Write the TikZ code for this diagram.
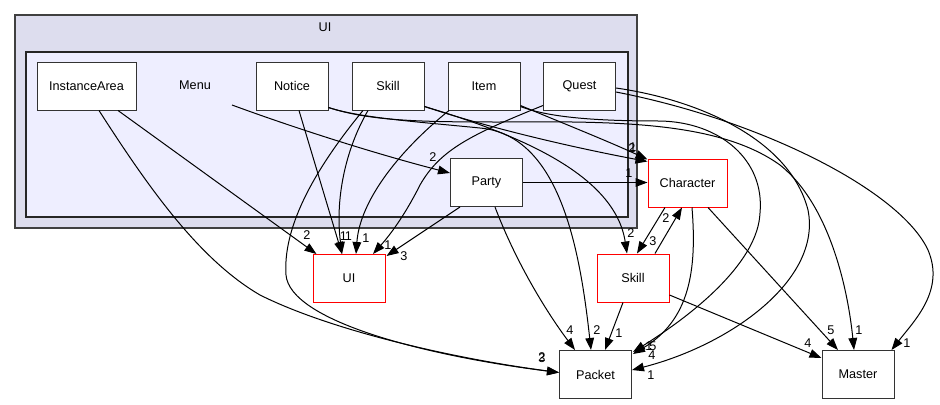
\documentclass[tikz,border=0pt]{standalone}
\usepackage{fontspec}
\setmainfont{Liberation Sans}
\usetikzlibrary{arrows.meta,calc}
\definecolor{outerfill}{HTML}{DDDDEE}
\definecolor{innerfill}{HTML}{EEEEFF}
\definecolor{clborder}{HTML}{404040}
\begin{document}
\begin{tikzpicture}[x=0.75pt,y=-0.75pt,
  font=\fontsize{9.5}{11}\selectfont,
  dirbox/.style={draw=black!80, fill=white, line width=0.75pt, minimum width=54pt, minimum height=36pt, inner sep=0pt},
  reddir/.style={dirbox, draw=red},
  edge/.style={draw=black, line width=0.75pt, -{Triangle[length=9pt,width=6.5pt]}},
  lbl/.style={inner sep=0pt}]
\useasboundingbox (0,0) rectangle (940,404);
% clusters
\draw[fill=outerfill, draw=clborder, line width=1.2pt] (15,15) rectangle (637,228);
\node[lbl] (uilabel) at (325,27) {UI};
\draw[fill=innerfill, draw=black!85, line width=0.9pt] (26,52) rectangle (628,217);
% nodes
\node[dirbox, minimum width=74.25pt] (instancearea) at (86.5,86) {InstanceArea};
\node[lbl] (menu) at (195,85) {Menu};
\node[dirbox] (notice) at (292,86) {Notice};
\node[dirbox] (skillui) at (388,86) {Skill};
\node[dirbox] (item) at (484,86) {Item};
\node[dirbox] (quest) at (579.5,86) {Quest};
\node[dirbox] (party) at (486.5,182.5) {Party};
\node[reddir] (ui) at (349,278.5) {UI};
\node[reddir] (skill) at (633,278) {Skill};
\node[reddir, minimum width=59.25pt] (character) at (687.5,183) {Character};
\node[dirbox] (packet) at (595.5,374.5) {Packet};
\node[dirbox] (master) at (858,374.5) {Master};
% edges
\draw[edge] ($(instancearea.south)+(31.5,0)$) -- ($(ui.north west)+(4,0)$);
\draw[edge] ($(instancearea.south)+(12.5,0)$) .. controls (150,190) and (200,260) .. (260,295) .. controls (330,330) and (450,358) .. ($(packet.west)+(0,-2)$);
\draw[edge] ($(menu)+(37,20)$) .. controls (300,130) and (380,155) .. ($(party.west)+(0,-9.5)$);
\draw[edge] ($(notice.south)+(7,0)$) -- ($(ui.north)+(-7,0)$);
\draw[edge] ($(notice.south east)+(0,-3)$) .. controls (360,118) and (420,122) .. (480,128) .. controls (560,135) and (580,250) .. ($(packet.north)+(-4.5,0)$);
\draw[edge] ($(notice.south east)+(0,-3)$) .. controls (370,121) and (420,122) .. (500,122) .. controls (620,121) and (720,122) .. (780,165) .. controls (830,205) and (848,290) .. ($(master.north)+(-4,0)$);
\draw[edge] ($(skillui.south)+(-20,0)$) .. controls (345,150) and (335,200) .. ($(ui.north)+(-7,0)$);
\draw[edge] ($(skillui.south)+(-25,0)$) .. controls (310,175) and (283,230) .. (286,275) .. controls (290,320) and (420,355) .. ($(packet.west)+(0,-2)$);
\draw[edge] ($(skillui.south east)+(0,-4)$) .. controls (480,125) and (560,145) .. ($(character.north west)+(0,3)$);
\draw[edge] ($(skillui.south east)+(0,-4)$) .. controls (520,135) and (615,175) .. ($(skill.north)+(-6,0)$);
\draw[edge] ($(item.south)+(-35,0)$) .. controls (400,150) and (360,200) .. ($(ui.north)+(7,0)$);
\draw[edge] ($(item.south east)+(0,-5)$) .. controls (560,122) and (610,142) .. ($(character.north west)+(0,1)$);
\draw[edge] ($(item.south east)+(0,-4)$) .. controls (550,118) and (600,121) .. (660,121) .. controls (720,122) and (765,160) .. (760,213) .. controls (758,260) and (700,310) .. ($(packet.north east)+(1,2)$);
\draw[edge] ($(quest.south west)+(0,-5)$) .. controls (470,135) and (440,150) .. (420,185) .. controls (405,215) and (390,235) .. ($(ui.north)+(24,0)$);
\draw[edge] ($(quest.east)+(0,2)$) .. controls (700,100) and (790,140) .. (808,210) .. controls (822,280) and (730,345) .. ($(packet.east)+(0,-4.5)$);
\draw[edge] ($(quest.east)+(0,6)$) .. controls (760,120) and (900,190) .. (928,250) .. controls (945,290) and (915,320) .. ($(master.north east)+(-3,0)$);
\draw[edge] ($(party.south)+(-26.5,0)$) -- ($(ui.north east)+(1,2)$);
\draw[edge] ($(party.south)+(8.5,0)$) .. controls (515,260) and (545,310) .. ($(packet.north)+(-20.5,0)$);
\draw[edge] (party.east) -- (party.east -| character.west);
\draw[edge] ($(character.south)+(-22.5,0)$) -- ($(skill.north)+(4,0)$);
\draw[edge] ($(skill.north)+(22,0)$) -- ($(character.south)+(-5.5,0)$);
\draw[edge] ($(character.south)+(4.5,0)$) .. controls (697,270) and (690,320) .. ($(packet.north east)+(1,4)$);
\draw[edge] ($(character.south)+(20.5,0)$) -- ($(master.north)+(-20,0)$);
\draw[edge] ($(skill.south)+(-10,0)$) -- ($(packet.north)+(9.5,0)$);
\draw[edge] ($(skill.east)+(0,17)$) -- ($(master.west)+(0,-16.5)$);
% labels
\node[lbl] at (307,235) {2};
\node[lbl] at (343.5,236) {1};
\node[lbl] at (348.5,236) {1};
\node[lbl] at (366,238) {1};
\node[lbl] at (388,245) {1};
\node[lbl] at (404,256) {3};
\node[lbl] at (433,157) {2};
\node[lbl] at (632,148) {2};
\node[lbl] at (633,147) {1};
\node[lbl] at (629,173) {1};
\node[lbl] at (631,233) {2};
\node[lbl] at (653,241) {3};
\node[lbl] at (666,218) {2};
\node[lbl] at (570,330) {4};
\node[lbl] at (597,330) {2};
\node[lbl] at (619,333) {1};
\node[lbl] at (542,358) {3};
\node[lbl] at (542,357) {2};
\node[lbl] at (649,346) {1};
\node[lbl] at (653,346) {5};
\node[lbl] at (652,355) {4};
\node[lbl] at (651,375) {1};
\node[lbl] at (831,330) {5};
\node[lbl] at (859,330) {1};
\node[lbl] at (808,343) {4};
\node[lbl] at (907,343) {1};
\end{tikzpicture}
\end{document}
